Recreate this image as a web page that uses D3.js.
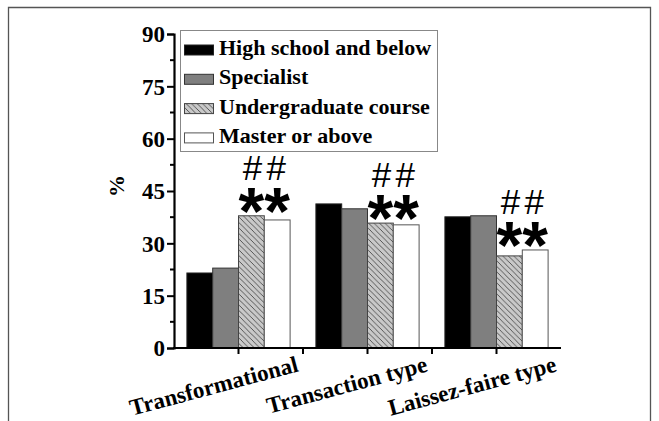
<!DOCTYPE html>
<html>
<head>
<meta charset="utf-8">
<script src="https://cdn.jsdelivr.net/npm/d3@7"></script>
<style>
  html, body { margin: 0; padding: 0; background: #fff; }
  svg { display: block; }
</style>
</head>
<body>
<svg id="chart" width="659" height="421"></svg>
<script>
// Leadership style preference by education level (%)
const categories = ["Transformational", "Transaction type", "Laissez-faire type"];
const seriesNames = ["High school and below", "Specialist", "Undergraduate course", "Master or above"];
const highSchool    = [21.5, 41.3, 37.6];
const specialist    = [22.9, 39.9, 37.9];
const undergraduate = [37.9, 35.8, 26.4];
const master        = [36.7, 35.3, 28.1];
const yTicks = [0, 15, 30, 45, 60, 75, 90];
// significance markers drawn above the undergraduate and master bars
const starMark = "*";
const hashMark = "#";

const seriesValues = [highSchool, specialist, undergraduate, master];

const svg = d3.select("#chart");
const serif = "'Liberation Serif', 'Times New Roman', serif";
const sans = "'Liberation Sans', Arial, sans-serif";

// outer frame
svg.append("path")
  .attr("d", "M8.5,440 V7.5 H650.5 V440")
  .attr("fill", "none").attr("stroke", "#555").attr("stroke-width", 1.3);

// hatch pattern
const defs = svg.append("defs");
const pat = defs.append("pattern")
  .attr("id", "hatch").attr("patternUnits", "userSpaceOnUse")
  .attr("width", 5.5).attr("height", 5.5);
pat.append("rect").attr("width", 5.5).attr("height", 5.5).attr("fill", "#c9c9c9");
pat.append("path")
  .attr("d", "M0,0 L5.5,5.5 M-1,4.5 L1,6.5 M4.5,-1 L6.5,1")
  .attr("stroke", "#3a3a3a").attr("stroke-width", 0.8);

const fills = ["#000000", "#7f7f7f", "url(#hatch)", "#ffffff"];
const strokes = ["#222", "#333", "#444", "#555"];

const x0 = d3.scaleBand().domain(categories).range([174, 561])
  .paddingInner(0.2).paddingOuter(0.1);
const x1 = d3.scaleBand().domain(d3.range(seriesNames.length)).range([0, x0.bandwidth()]);
const y = d3.scaleLinear().domain([0, 90]).range([348, 34]);

// bars
const groups = svg.append("g").selectAll("g").data(categories).join("g")
  .attr("transform", d => `translate(${x0(d)},0)`);
groups.selectAll("rect")
  .data((c, ci) => seriesValues.map((vals, si) => ({ si, v: vals[ci] })))
  .join("rect")
  .attr("x", d => x1(d.si))
  .attr("width", x1.bandwidth())
  .attr("y", d => y(d.v))
  .attr("height", d => y(0) - y(d.v))
  .attr("fill", d => fills[d.si])
  .attr("stroke", d => strokes[d.si])
  .attr("stroke-width", 1);

// significance markers
categories.forEach((c, ci) => {
  const top = Math.min(y(undergraduate[ci]), y(master[ci]));
  [2, 3].forEach(si => {
    const cx = x0(c) + x1(si) + x1.bandwidth() / 2;
    svg.append("text")
      .attr("x", cx).attr("y", top + 18)
      .attr("text-anchor", "middle")
      .attr("font-family", sans).attr("font-weight", "bold")
      .attr("font-size", 66).attr("fill", "#000")
      .text(starMark);
    svg.append("text")
      .attr("x", cx - (si === 2 ? -1 : 1)).attr("y", top - 36)
      .attr("text-anchor", "middle")
      .attr("font-family", sans)
      .attr("font-size", 35).attr("fill", "#000")
      .text(hashMark);
  });
});

// y axis
const yAxis = d3.axisLeft(y).tickValues(yTicks).tickSize(7).tickPadding(2);
const gy = svg.append("g").attr("transform", "translate(174,0)").call(yAxis);
gy.select(".domain").attr("stroke", "#000").attr("stroke-width", 2.2);
gy.selectAll(".tick line").attr("stroke", "#000").attr("stroke-width", 2);
gy.selectAll(".tick text")
  .attr("font-family", serif).attr("font-weight", "bold")
  .attr("font-size", 23).attr("fill", "#000").attr("dy", "0.34em");
// minor y ticks
const minorY = d3.range(7.5, 90, 15);
svg.append("g").selectAll("line").data(minorY).join("line")
  .attr("x1", 170).attr("x2", 174)
  .attr("y1", d => y(d)).attr("y2", d => y(d))
  .attr("stroke", "#000").attr("stroke-width", 2);

// x axis
svg.append("line")
  .attr("x1", 173).attr("x2", 561).attr("y1", y(0)).attr("y2", y(0))
  .attr("stroke", "#000").attr("stroke-width", 2.2);
const step = x0.step();
const majorX = categories.map(c => x0(c) + x0.bandwidth() / 2);
const minorX = [1, 2].map(k => 174 + k * step);
svg.append("g").selectAll("line").data(majorX.concat(minorX)).join("line")
  .attr("x1", d => d).attr("x2", d => d)
  .attr("y1", y(0)).attr("y2", y(0) + 6)
  .attr("stroke", "#000").attr("stroke-width", 2);

// category labels, tilted
svg.append("g").selectAll("text").data(categories).join("text")
  .attr("transform", d => `translate(${x0(d) + x0.bandwidth() / 2 + 61},371) rotate(-15)`)
  .attr("text-anchor", "end")
  .attr("font-family", serif).attr("font-weight", "bold")
  .attr("font-size", 23).attr("fill", "#000")
  .text(d => d);

// y axis title
svg.append("text")
  .attr("transform", "translate(124,186) rotate(-90)")
  .attr("text-anchor", "middle")
  .attr("font-family", serif).attr("font-weight", "bold")
  .attr("font-size", 22).attr("fill", "#000")
  .text("%");

// legend
const lg = svg.append("g");
lg.append("rect")
  .attr("x", 180.5).attr("y", 30.5).attr("width", 257).attr("height", 121)
  .attr("fill", "#fff").attr("stroke", "#888").attr("stroke-width", 1);
seriesNames.forEach((name, i) => {
  const rowY = 45 + i * 29.3;
  lg.append("rect")
    .attr("x", 184.5).attr("y", rowY).attr("width", 29).attr("height", 10)
    .attr("fill", fills[i]).attr("stroke", strokes[i]).attr("stroke-width", 1);
  lg.append("text")
    .attr("x", 219).attr("y", rowY + 10)
    .attr("font-family", serif).attr("font-weight", "bold")
    .attr("font-size", 22).attr("fill", "#000")
    .text(name);
});
</script>
</body>
</html>
